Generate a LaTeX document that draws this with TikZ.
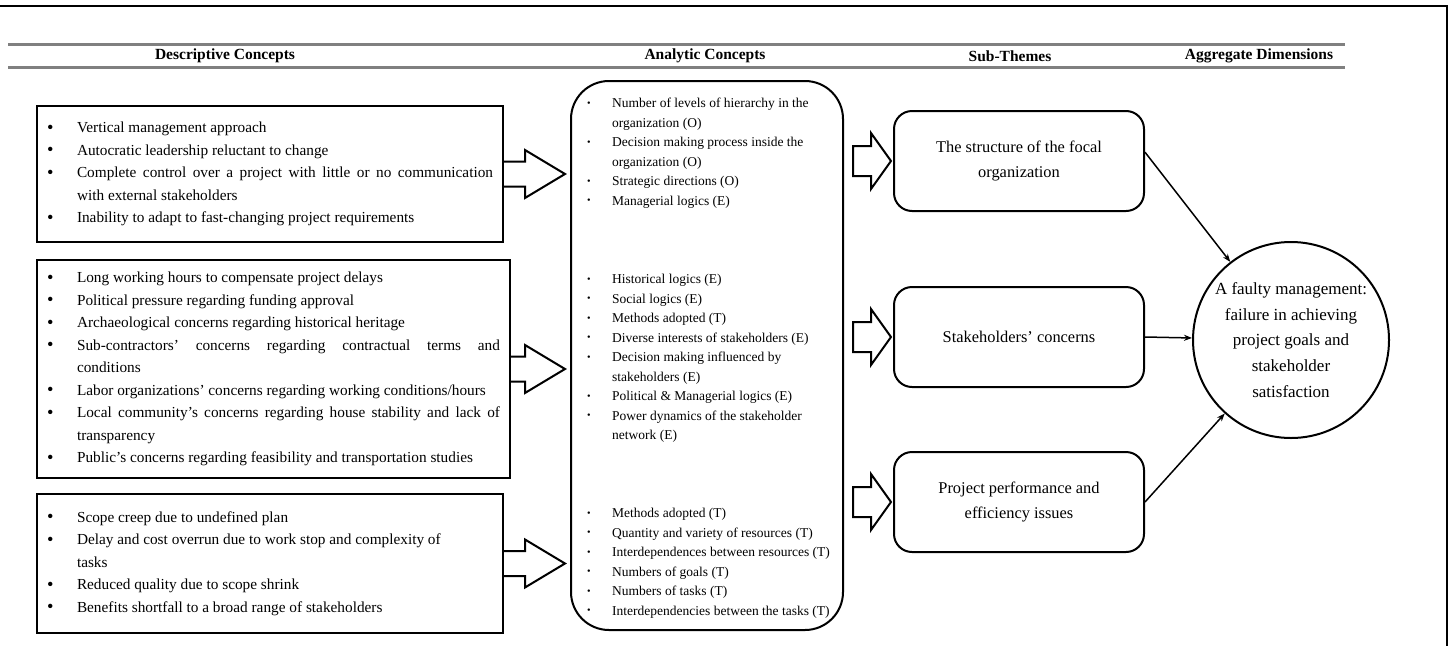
\documentclass[tikz,border=0pt]{standalone}
\usepackage{fontspec}
\usepackage{graphicx}
\setmainfont{Liberation Serif}
\usetikzlibrary{arrows.meta,calc}

% list items: big bullets for the descriptive boxes, small dots for the analytic box
\newcommand\ditem[1]{\par\noindent\hangindent=30pt\hangafter=1\makebox[30pt][l]{\raisebox{-0.03em}{\scalebox{1.2}{\textbullet}}}#1}
\newcommand\aitem[1]{\par\noindent\hangindent=25pt\hangafter=1\makebox[25pt][l]{\raisebox{0.08em}{\scalebox{0.75}{\textbullet}}}#1}

% open block arrow leaving a box edge (#1) and pointing at #2
\newcommand\openarrow[2]{%
  \draw[blockarrow] let \p1=#1, \p2=#2 in
    (\x1,\y1+12.5pt) -- (\x2-40pt,\y1+12.5pt) -- (\x2-40pt,\y1+24pt) -- (\x2,\y1)
    -- (\x2-40pt,\y1-24pt) -- (\x2-40pt,\y1-12.5pt) -- (\x1,\y1-12.5pt);}
% closed block arrow from #1 to tip #2
\newcommand\closedarrow[2]{%
  \draw[blockarrow] let \p1=#1, \p2=#2 in
    (\x1,\y2+15pt) -- (\x2-20pt,\y2+15pt) -- (\x2-20pt,\y2+28pt) -- (\x2,\y2)
    -- (\x2-20pt,\y2-28pt) -- (\x2-20pt,\y2-15pt) -- (\x1,\y2-15pt) -- cycle;}

\tikzset{
  frameline/.style={line width=2pt},
  headrule/.style={line width=3pt, draw=black!50},
  headtext/.style={font=\fontsize{15.5}{18}\selectfont\bfseries, inner sep=0pt},
  descbox/.style={draw, line width=2.2pt, inner xsep=10pt, inner ysep=0pt},
  anabox/.style={draw, line width=2pt, rounded corners=38pt},
  anatext/.style={anchor=base west, inner sep=0pt},
  subbox/.style={draw, line width=2pt, rounded corners=18pt, minimum width=250pt,
    minimum height=100pt, align=center, font=\fontsize{16.4}{25}\selectfont},
  aggnode/.style={circle, draw, line width=2pt, minimum size=196pt, inner sep=0pt,
    align=center, font=\fontsize{17}{25.7}\selectfont},
  blockarrow/.style={line width=2pt, fill=white, line join=miter},
  link/.style={line width=1.5pt, -{Stealth[length=8pt,width=6pt]}}
}

\begin{document}
\begin{tikzpicture}[x=1pt,y=-1pt]
\useasboundingbox (0,0) rectangle (1453,646);

% outer frame (top and right sides)
\draw[frameline] (0,6) -- (1447,6) -- (1447,646);

% column headings between two rules
\draw[headrule] (8,44) -- (1345,44);
\draw[headrule] (8,67) -- (1345,67);
\node[headtext] (h1) at (225,56) {Descriptive Concepts};
\node[headtext] (h2) at (705,56) {Analytic Concepts};
\node[headtext] (h3) at (1010,56) {Sub-Themes};
\node[headtext] (h4) at (1259,56) {Aggregate Dimensions};

% descriptive concepts
\node[descbox, minimum width=466pt, minimum height=136pt] (d1) at (270,174) {%
\begin{minipage}{446pt}\fontsize{15.3}{22.5}\selectfont
\ditem{Vertical management approach}
\ditem{Autocratic leadership reluctant to change}
\ditem{Complete control over a project with little or no communication\linebreak with external stakeholders}
\ditem{Inability to adapt to fast-changing project requirements}
\end{minipage}};

\node[descbox, minimum width=473pt, minimum height=218pt] (d2) at (273.5,369) {%
\begin{minipage}{453pt}\fontsize{15.3}{22.5}\selectfont
\ditem{Long working hours to compensate project delays}
\ditem{Political pressure regarding funding approval}
\ditem{Archaeological concerns regarding historical heritage}
\ditem{Sub-contractors' concerns regarding contractual terms and\linebreak conditions}
\ditem{Labor organizations' concerns regarding working conditions/hours}
\ditem{Local community's concerns regarding house stability and lack of\linebreak transparency}
\ditem{Public's concerns regarding feasibility and transportation studies}
\end{minipage}};

\node[descbox, minimum width=466pt, minimum height=139pt] (d3) at (270,563.5) {%
\begin{minipage}{446pt}\fontsize{15.3}{22.5}\selectfont
\ditem{Scope creep due to undefined plan}
\ditem{Delay and cost overrun due to work stop and complexity of\newline tasks}
\ditem{Reduced quality due to scope shrink}
\ditem{Benefits shortfall to a broad range of stakeholders}
\end{minipage}};

% analytic concepts
\node[anabox, minimum width=272pt, minimum height=549pt] (mid) at (707,355.5) {};

\node[anatext] (g1) at (587,107.5) {%
\begin{minipage}[t]{250pt}\raggedright\fontsize{13.5}{19.5}\selectfont
\aitem{Number of levels of hierarchy in the\newline organization (O)}
\aitem{Decision making process inside the\newline organization (O)}
\aitem{Strategic directions (O)}
\aitem{Managerial logics (E)}
\end{minipage}};

\node[anatext] (g2) at (587,283.5) {%
\begin{minipage}[t]{250pt}\raggedright\fontsize{13.5}{19.5}\selectfont
\aitem{Historical logics (E)}
\aitem{Social logics (E)}
\aitem{Methods adopted (T)}
\aitem{Diverse interests of stakeholders (E)}
\aitem{Decision making influenced by\newline stakeholders (E)}
\aitem{Political \& Managerial logics (E)}
\aitem{Power dynamics of the stakeholder\newline network (E)}
\end{minipage}};

\node[anatext] (g3) at (587,517.5) {%
\begin{minipage}[t]{250pt}\raggedright\fontsize{13.5}{19.5}\selectfont
\aitem{Methods adopted (T)}
\aitem{Quantity and variety of resources (T)}
\aitem{Interdependences between resources (T)}
\aitem{Numbers of goals (T)}
\aitem{Numbers of tasks (T)}
\aitem{Interdependencies between the tasks (T)}
\end{minipage}};

% sub-themes
\node[subbox] (s1) at (1019,161) {The structure of the focal\\organization};
\node[subbox] (s2) at (1019,337) {Stakeholders' concerns};
\node[subbox] (s3) at (1019,502) {Project performance and\\efficiency issues};

% aggregate dimension
\node[aggnode] (agg) at (1291,340) {A faulty management:\\failure in achieving\\project goals and\\stakeholder\\satisfaction};

% block arrows: descriptive -> analytic
\openarrow{(d1.east)}{($(mid.west |- d1.east)+(-5,0)$)}
\openarrow{(d2.east)}{($(mid.west |- d2.east)+(-5,0)$)}
\openarrow{(d3.east)}{($(mid.west |- d3.east)+(-5,0)$)}

% block arrows: analytic -> sub-themes
\closedarrow{($(mid.east |- s1.west)+(9,0)$)}{($(s1.west)+(-2,0)$)}
\closedarrow{($(mid.east |- s2.west)+(9,0)$)}{($(s2.west)+(-2,0)$)}
\closedarrow{($(mid.east |- s3.west)+(9,0)$)}{($(s3.west)+(-2,0)$)}

% sub-themes -> aggregate dimension
\draw[link] (s1.4) -- (agg);
\draw[link] (s2.east) -- (agg);
\draw[link] (s3.east) -- (agg);
\end{tikzpicture}
\end{document}
